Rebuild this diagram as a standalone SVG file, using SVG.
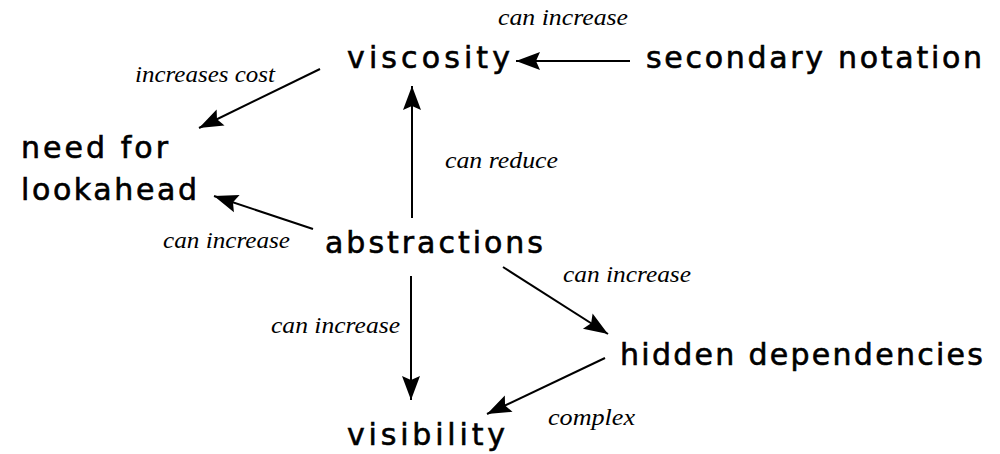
<svg xmlns="http://www.w3.org/2000/svg" width="1000" height="454" viewBox="0 0 1000 454">
<style>
.node{font-family:"DejaVu Sans","Verdana",sans-serif;font-size:30px;fill:#000;stroke:#000;stroke-width:0.6px}
.lbl{font-family:"Liberation Serif","Times New Roman",serif;font-style:italic;font-size:24px;fill:#000}
.edge{stroke:#000;stroke-width:2;fill:none;marker-end:url(#ah)}
</style>
<defs>
<marker id="ah" markerUnits="userSpaceOnUse" markerWidth="28" markerHeight="22" viewBox="-26 -11 28 22" refX="0" refY="0" orient="auto">
<path d="M0,0 L-24,-9 L-20,0 L-24,9 Z" fill="#000"/>
</marker>
</defs>
<rect width="1000" height="454" fill="#fff"/>
<g id="connectors">
<line class="edge" x1="630" y1="61" x2="516" y2="61"/>
<line class="edge" x1="320" y1="69" x2="199" y2="128"/>
<line class="edge" x1="412" y1="218" x2="412" y2="86"/>
<line class="edge" x1="313" y1="229" x2="214" y2="196"/>
<line class="edge" x1="411" y1="276" x2="411" y2="400"/>
<line class="edge" x1="503" y1="267" x2="608" y2="334"/>
<line class="edge" x1="605" y1="358" x2="487" y2="414"/>
</g>
<g id="edge-labels">
<text class="lbl" x="498" y="25" textLength="130" lengthAdjust="spacingAndGlyphs">can increase</text>
<text class="lbl" x="135" y="82" textLength="140" lengthAdjust="spacingAndGlyphs">increases cost</text>
<text class="lbl" x="445" y="168" textLength="113" lengthAdjust="spacingAndGlyphs">can reduce</text>
<text class="lbl" x="163" y="248" textLength="127" lengthAdjust="spacingAndGlyphs">can increase</text>
<text class="lbl" x="563" y="282" textLength="128" lengthAdjust="spacingAndGlyphs">can increase</text>
<text class="lbl" x="271" y="333" textLength="129" lengthAdjust="spacingAndGlyphs">can increase</text>
<text class="lbl" x="548" y="425" textLength="87" lengthAdjust="spacingAndGlyphs">complex</text>
</g>
<g id="viscosity"><text class="node" x="347" y="68" textLength="163">viscosity</text></g>
<g id="secondary-notation"><text class="node" x="646" y="68" textLength="336">secondary notation</text></g>
<g id="need-for-lookahead"><text class="node" x="21" y="158" textLength="147">need for</text><text class="node" x="21" y="200" textLength="176">lookahead</text></g>
<g id="abstractions"><text class="node" x="325" y="253" textLength="218">abstractions</text></g>
<g id="hidden-dependencies"><text class="node" x="620" y="365" textLength="363">hidden dependencies</text></g>
<g id="visibility"><text class="node" x="347" y="445" textLength="158">visibility</text></g>
</svg>
